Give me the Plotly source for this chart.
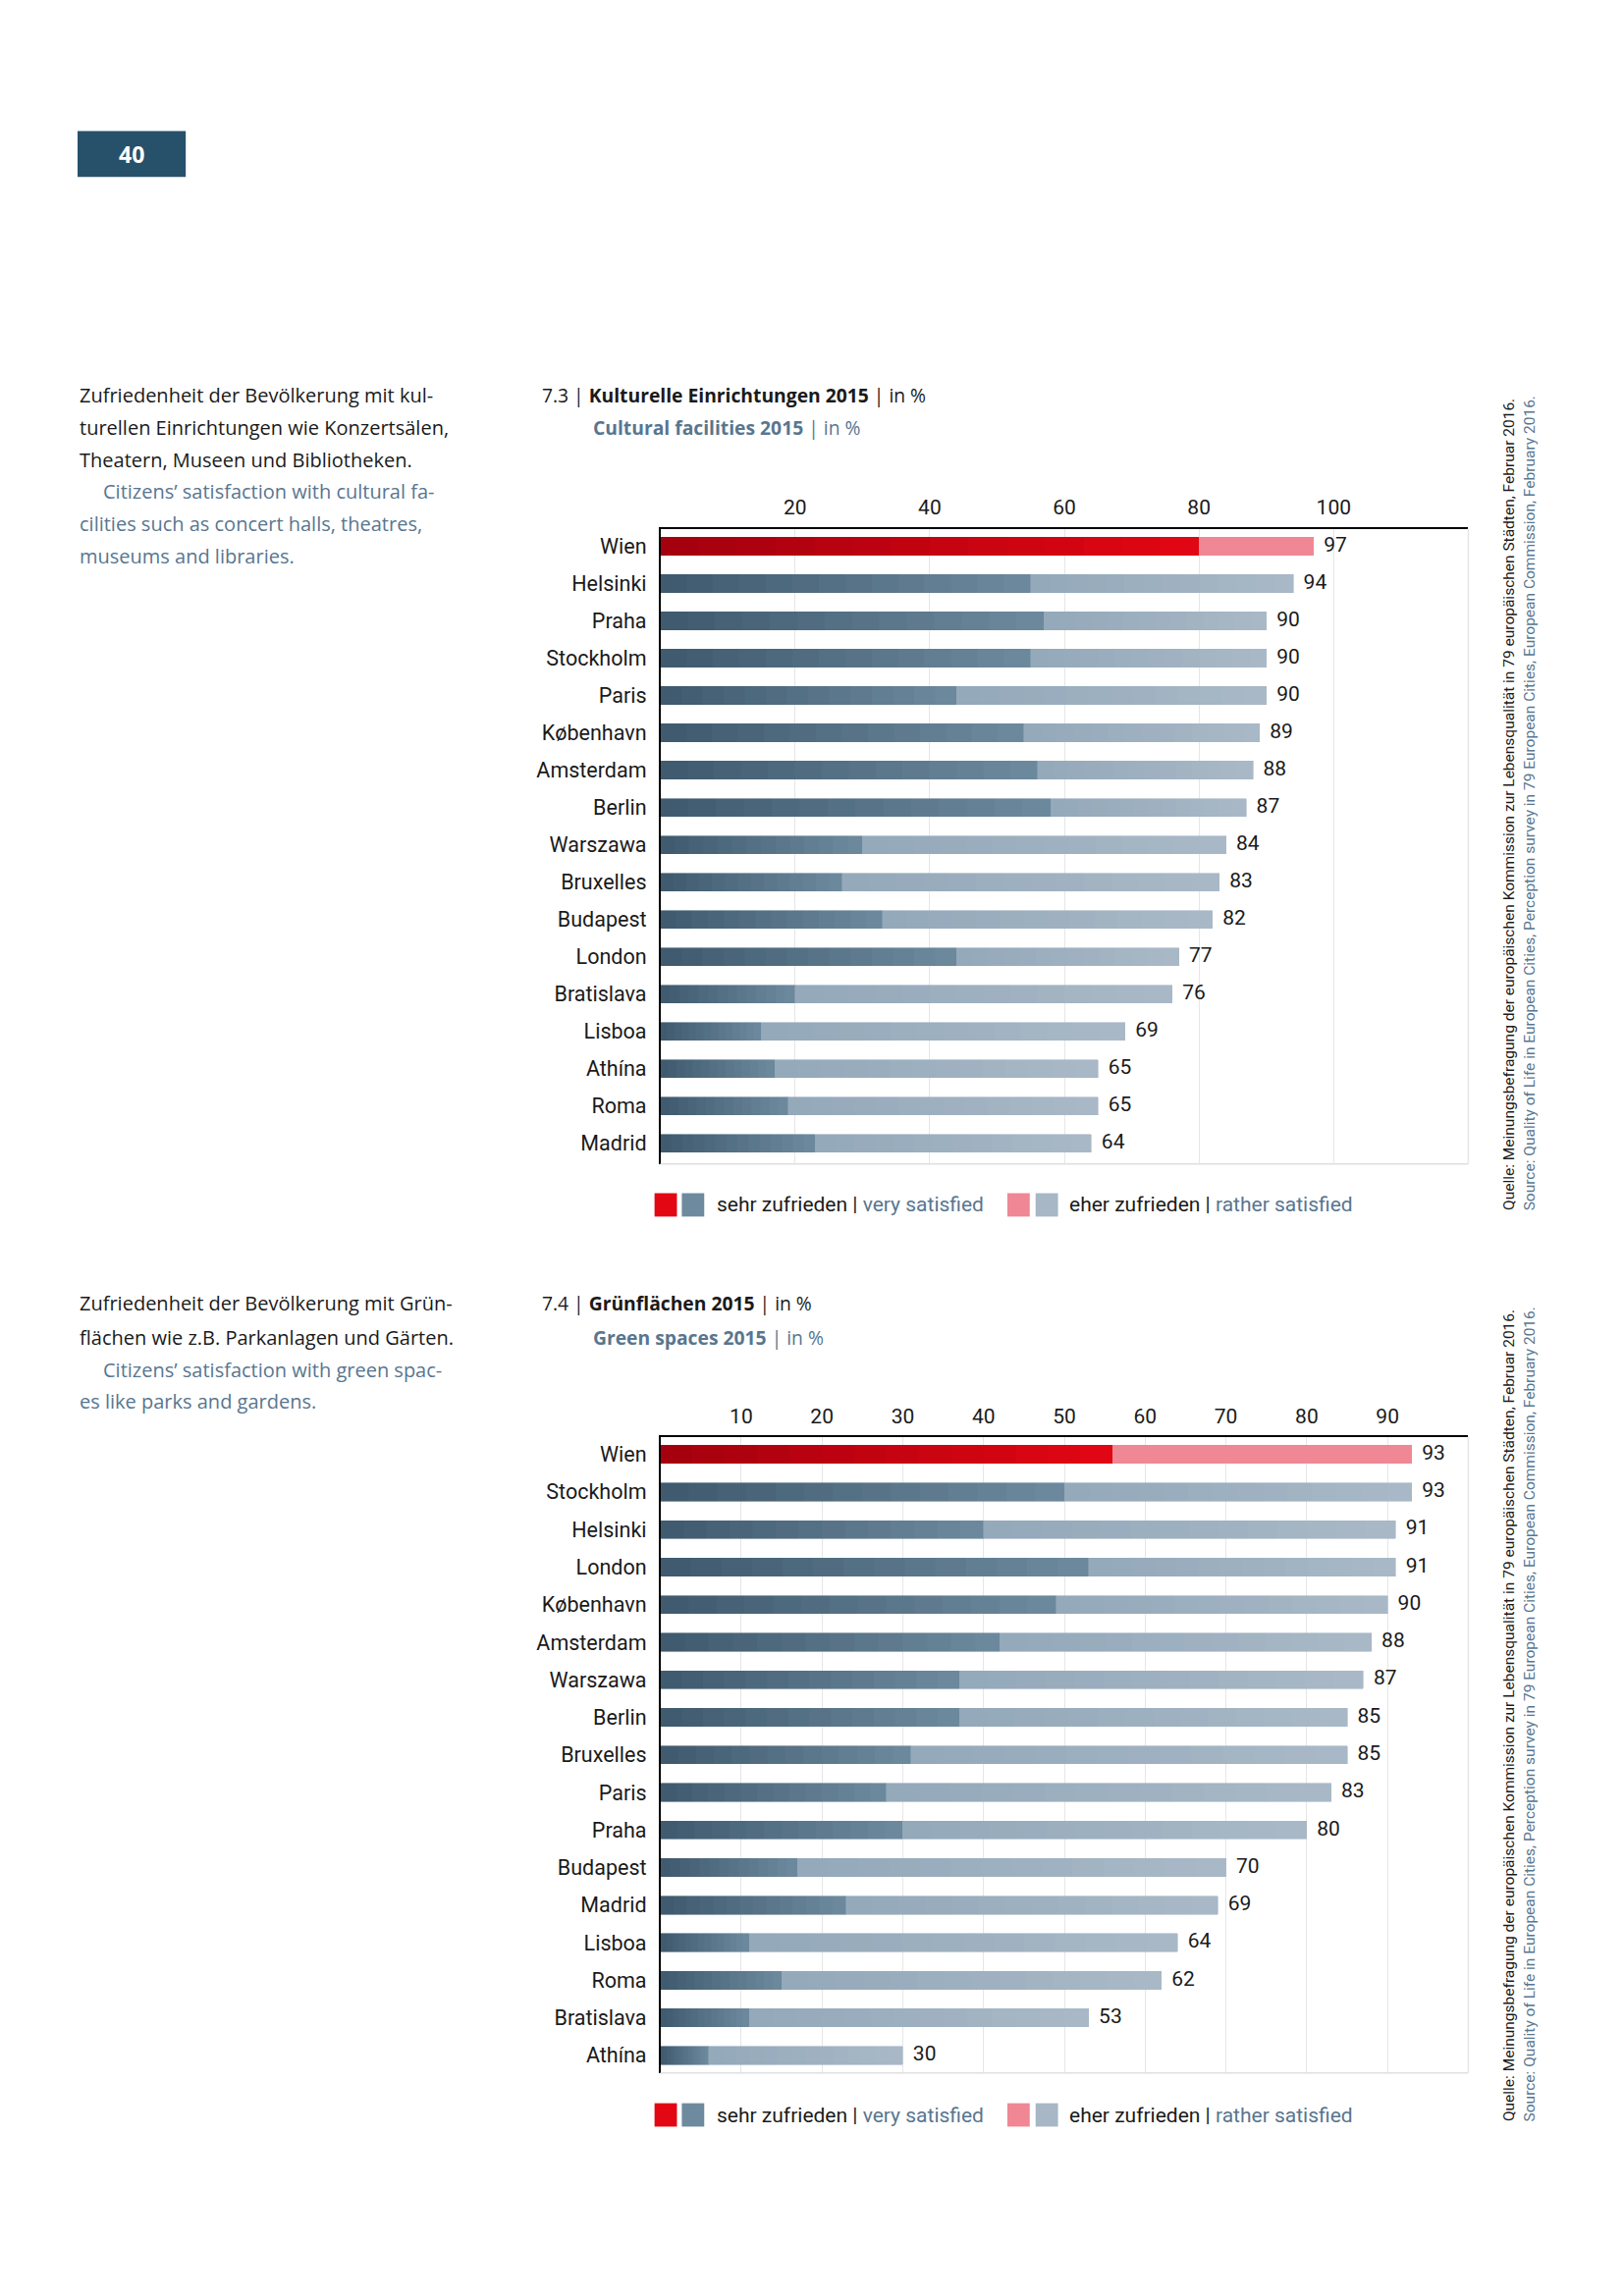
import plotly.graph_objects as go

W, H = 1654, 2339

# ---------------- data ----------------
cities_culture = ["Wien", "Helsinki", "Praha", "Stockholm", "Paris", "København", "Amsterdam",
                  "Berlin", "Warszawa", "Bruxelles", "Budapest", "London", "Bratislava",
                  "Lisboa", "Athína", "Roma", "Madrid"]
culture_very = [80, 55, 57, 55, 44, 54, 56, 58, 30, 27, 33, 44, 20, 15, 17, 19, 23]
culture_total = [97, 94, 90, 90, 90, 89, 88, 87, 84, 83, 82, 77, 76, 69, 65, 65, 64]

cities_green = ["Wien", "Stockholm", "Helsinki", "London", "København", "Amsterdam", "Warszawa",
                "Berlin", "Bruxelles", "Paris", "Praha", "Budapest", "Madrid", "Lisboa",
                "Roma", "Bratislava", "Athína"]
green_very = [56, 50, 40, 53, 49, 42, 37, 37, 31, 28, 30, 17, 23, 11, 15, 11, 6]
green_total = [93, 93, 91, 91, 90, 88, 87, 85, 85, 83, 80, 70, 69, 64, 62, 53, 30]

culture_ticks = [20, 40, 60, 80, 100]
green_ticks = [10, 20, 30, 40, 50, 60, 70, 80, 90]

# ---------------- style ----------------
BLACK = "#1a1a1a"
BLUE_TXT = "#587690"
BODY_FONT = "Open Sans"
LBL_FONT = "Roboto"
RED0, RED1 = "#a3000e", "#e30613"
PINK = "#f08794"
DARK0, DARK1 = "#3e596d", "#6e8a9e"
LIGHT0, LIGHT1 = "#93a8b9", "#a9b9c7"
STEPS = 14


def tr(v):
    return 0.9926 * v - 8.4


def px(x):
    return tr(x) / W


def py(y):
    return 1 - tr(y) / H


def hex2rgb(h):
    h = h.lstrip("#")
    return tuple(int(h[i:i + 2], 16) for i in (0, 2, 4))


def mix(c0, c1, t):
    a, b = hex2rgb(c0), hex2rgb(c1)
    return "rgb(%d,%d,%d)" % tuple(round(a[i] + (b[i] - a[i]) * t) for i in range(3))


fig = go.Figure()


def add_chart(cities, very, total, xa, ya):
    rather = [t - v for t, v in zip(total, very)]
    for k in range(STEPS):
        t = (k + 0.5) / STEPS
        cols = [mix(RED0, RED1, t) if c == "Wien" else mix(DARK0, DARK1, t) for c in cities]
        fig.add_trace(go.Bar(
            x=[v / STEPS for v in very], y=cities, orientation="h",
            xaxis=xa, yaxis=ya, width=0.48,
            marker=dict(color=cols, line=dict(color=cols, width=0.6)),
            showlegend=False, hoverinfo="skip"))
    for k in range(STEPS):
        t = (k + 0.5) / STEPS
        cols = [PINK if c == "Wien" else mix(LIGHT0, LIGHT1, t) for c in cities]
        fig.add_trace(go.Bar(
            x=[r / STEPS for r in rather], y=cities, orientation="h",
            xaxis=xa, yaxis=ya, width=0.48,
            marker=dict(color=cols, line=dict(color=cols, width=0.6)),
            showlegend=False, hoverinfo="skip"))
    fig.add_trace(go.Scatter(
        x=total, y=cities, mode="text", text=["  " + str(t) for t in total],
        textposition="middle right", xaxis=xa, yaxis=ya,
        textfont=dict(family=LBL_FONT, size=21, color=BLACK),
        showlegend=False, hoverinfo="skip", cliponaxis=False))


add_chart(cities_culture, culture_very, culture_total, "x", "y")
add_chart(cities_green, green_very, green_total, "x2", "y2")

xdom = [px(678), px(1507)]
common_x = dict(side="top", showgrid=True, gridcolor="#e6e6e6", gridwidth=1,
                showline=True, linecolor="#000000", linewidth=1.5, ticks="",
                tickfont=dict(family=LBL_FONT, size=21, color=BLACK),
                zeroline=False, fixedrange=True, ticklabelstandoff=4)
common_y = dict(type="category", showgrid=False, showline=True, linecolor="#000000",
                linewidth=1.5, ticks="", zeroline=False,
                tickfont=dict(family=LBL_FONT, size=21.5, color=BLACK),
                ticklabelstandoff=8)

fig.update_layout(
    width=W, height=H, margin=dict(l=0, r=0, t=0, b=0),
    paper_bgcolor="white", plot_bgcolor="white",
    barmode="stack", bargap=0.5,
    xaxis=dict(domain=xdom, anchor="y", range=[0, 120], tickvals=culture_ticks, **common_x),
    yaxis=dict(domain=[py(1195), py(543)], anchor="x", range=[16.55, -0.47],
               categoryorder="array", categoryarray=cities_culture, **common_y),
    xaxis2=dict(domain=xdom, anchor="y2", range=[0, 100], tickvals=green_ticks, **common_x),
    yaxis2=dict(domain=[py(2128), py(1475)], anchor="x2", range=[16.47, -0.47],
                categoryorder="array", categoryarray=cities_green, **common_y),
)

shapes = []
ann = []

# light frame on bottom / right of both plots
for xr, yr in (("x domain", "y domain"), ("x2 domain", "y2 domain")):
    shapes.append(dict(type="line", xref=xr, yref=yr, x0=0, x1=1, y0=0, y1=0,
                       line=dict(color="#e0e0e0", width=1.5)))
    shapes.append(dict(type="line", xref=xr, yref=yr, x0=1, x1=1, y0=0, y1=1,
                       line=dict(color="#e6e6e6", width=1.5)))

# page number box
shapes.append(dict(type="rect", xref="paper", yref="paper", x0=px(80), x1=px(191),
                   y0=py(182), y1=py(135), fillcolor="#27506a", line=dict(width=0)))
ann.append(dict(text="<b>40</b>", x=px(135), y=py(159), xref="paper", yref="paper",
                showarrow=False, font=dict(family=BODY_FONT, size=23, color="white"),
                xanchor="center", yanchor="middle"))


def text(s, x, y, size=18, color=BLACK, family=BODY_FONT):
    ann.append(dict(text=s, x=px(x), y=py(y), xref="paper", yref="paper", showarrow=False,
                    xanchor="left", yanchor="middle",
                    font=dict(family=family, size=size, color=color)))


# left descriptive texts
lines1 = [("Zufriedenheit der Bevölkerung mit kul-", 80, 406, BLACK),
          ("turellen Einrichtungen wie Konzertsälen,", 80, 439, BLACK),
          ("Theatern, Museen und Bibliotheken.", 80, 472, BLACK),
          ("Citizens’ satisfaction with cultural fa-", 104, 505, BLUE_TXT),
          ("cilities such as concert halls, theatres,", 80, 538, BLUE_TXT),
          ("museums and libraries.", 80, 571, BLUE_TXT)]
lines2 = [("Zufriedenheit der Bevölkerung mit Grün-", 80, 1338, BLACK),
          ("flächen wie z.B. Parkanlagen und Gärten.", 80, 1373, BLACK),
          ("Citizens’ satisfaction with green spac-", 104, 1406, BLUE_TXT),
          ("es like parks and gardens.", 80, 1439, BLUE_TXT)]
for s, x, y, c in lines1 + lines2:
    text(s, x, y, 20, c)

# chart titles
text("7.3 | <b>Kulturelle Einrichtungen 2015</b> | in %", 555, 406, 19.3)
text("<b>Cultural facilities 2015</b> | in %", 607, 439, 19.3, BLUE_TXT)
text("7.4 | <b>Grünflächen 2015</b> | in %", 555, 1338, 19.3)
text("<b>Green spaces 2015</b> | in %", 607, 1373, 19.3, BLUE_TXT)

# legends
for yc in (1237, 2171):
    for x0, col in ((672, "#e30613"), (700, "#6e8a9e"), (1034, PINK), (1063, "#a7b7c5")):
        shapes.append(dict(type="rect", xref="paper", yref="paper", x0=px(x0), x1=px(x0 + 23),
                           y0=py(yc + 12), y1=py(yc - 12), fillcolor=col, line=dict(width=0)))
    text("sehr zufrieden | <span style='color:%s'>very satisfied</span>" % BLUE_TXT,
         734, yc, 21, BLACK, LBL_FONT)
    text("eher zufrieden | <span style='color:%s'>rather satisfied</span>" % BLUE_TXT,
         1096, yc, 21, BLACK, LBL_FONT)

# vertical source notes
src_de = "Quelle: Meinungsbefragung der europäischen Kommission zur Lebensqualität in 79 europäischen Städten, Februar 2016."
src_en = "Source: Quality of Life in European Cities, Perception survey in 79 European Cities, European Commission, February 2016."
for ybot in (1245, 2180):
    for s, xc, c in ((src_de, 1549, BLACK), (src_en, 1570, BLUE_TXT)):
        ann.append(dict(text=s, x=px(xc), y=py(ybot), xref="paper", yref="paper",
                        showarrow=False, textangle=-90, xanchor="center", yanchor="bottom",
                        font=dict(family=LBL_FONT, size=15.5, color=c)))

fig.update_layout(shapes=shapes, annotations=ann)
fig.write_html("out.html")
